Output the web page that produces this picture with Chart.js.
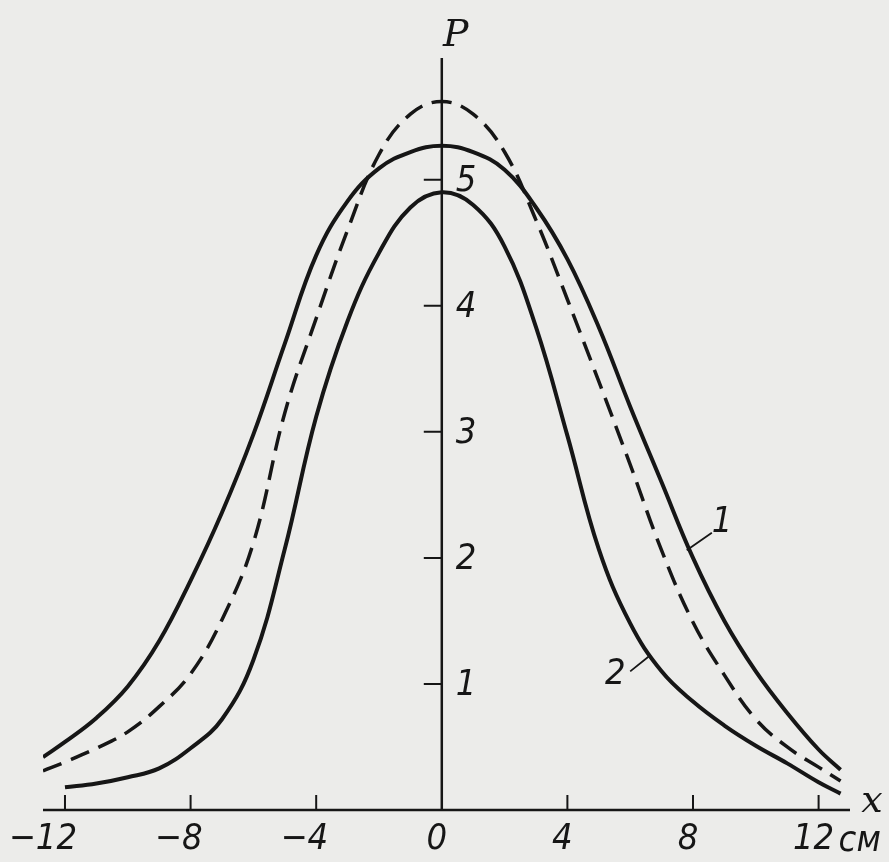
<!DOCTYPE html>
<html>
<head>
<meta charset="utf-8">
<title>P(x)</title>
<script src="https://cdn.jsdelivr.net/npm/chart.js@4.4.1/dist/chart.umd.min.js"></script>
<style>
  html, body { margin: 0; padding: 0; background: #ececea; }
  canvas { display: block; }
</style>
</head>
<body>
<canvas id="myChart" width="889" height="862"></canvas>
<script>
// values, P at each x (cm)
const xValues = [-12.7, -12, -11, -10, -9, -8, -7, -6, -5, -4, -3, -2, -1, 0, 1, 2, 3, 4, 5, 6, 7, 8, 9, 10, 11, 12, 12.7];
const curve1 = [0.42, 0.54, 0.73, 0.98, 1.34, 1.82, 2.36, 2.98, 3.7, 4.4, 4.83, 5.09, 5.22, 5.27, 5.22, 5.08, 4.78, 4.37, 3.83, 3.2, 2.6, 2.0, 1.5, 1.1, 0.77, 0.48, 0.32];
const curve2 = [null, 0.18, 0.21, 0.26, 0.33, 0.49, 0.72, 1.19, 2.07, 3.12, 3.88, 4.42, 4.78, 4.9, 4.8, 4.47, 3.83, 2.97, 2.07, 1.48, 1.1, 0.86, 0.67, 0.51, 0.37, 0.22, 0.13];
const dashed = [0.31, 0.38, 0.49, 0.62, 0.82, 1.08, 1.51, 2.12, 3.15, 3.9, 4.6, 5.2, 5.52, 5.62, 5.52, 5.22, 4.68, 4.05, 3.4, 2.74, 2.06, 1.49, 1.07, 0.72, 0.5, 0.34, 0.23];

const xTicks = [-12, -8, -4, 0, 4, 8, 12];
const yTicks = [1, 2, 3, 4, 5];

const ink = '#161616';
const labelFont = 'italic 36px "DejaVu Sans Condensed", "DejaVu Sans", sans-serif';

function toPoints(ys){
    return xValues.map((x, i) => ({x: x, y: ys[i]}));
}

const paper = {
    id: 'paper',
    beforeDraw(chart){
        const ctx = chart.ctx;
        ctx.save();
        ctx.fillStyle = '#ececea';
        ctx.fillRect(0, 0, chart.width, chart.height);
        ctx.restore();
    }
};

const axesArt = {
    id: 'axesArt',
    afterDraw(chart){
        const ctx = chart.ctx;
        const sx = chart.scales.x;
        const sy = chart.scales.y;
        const area = chart.chartArea;
        const x0 = sx.getPixelForValue(0);
        const y0 = sy.getPixelForValue(0);

        ctx.save();
        ctx.strokeStyle = ink;
        ctx.fillStyle = ink;
        ctx.lineWidth = 2.5;

        // axes
        ctx.beginPath();
        ctx.moveTo(area.left, y0);
        ctx.lineTo(area.right, y0);
        ctx.moveTo(x0, y0);
        ctx.lineTo(x0, area.top - 2);
        ctx.stroke();

        // x ticks go up, y ticks go left
        ctx.lineWidth = 2;
        ctx.beginPath();
        xTicks.forEach(v => {
            if (v === 0) return;
            const px = sx.getPixelForValue(v);
            ctx.moveTo(px, y0);
            ctx.lineTo(px, y0 - 15);
        });
        yTicks.forEach(v => {
            const py = sy.getPixelForValue(v);
            ctx.moveTo(x0, py);
            ctx.lineTo(x0 - 18, py);
        });
        ctx.stroke();

        ctx.font = labelFont;
        ctx.textBaseline = 'middle';
        xTicks.forEach(v => {
            const px = sx.getPixelForValue(v);
            if (v < 0) {
                ctx.textAlign = 'right';
                ctx.fillText('\u2212' + Math.abs(v), px + 12, y0 + 30);
            } else {
                ctx.textAlign = 'center';
                ctx.fillText(String(v), px - 5, y0 + 30);
            }
        });
        ctx.textAlign = 'left';
        ctx.fillText('см', sx.getPixelForValue(12) + 20, y0 + 32);

        yTicks.forEach(v => {
            ctx.fillText(String(v), x0 + 14, sy.getPixelForValue(v) + 2);
        });

        // axis names
        ctx.font = 'italic 38px "DejaVu Serif", serif';
        ctx.textAlign = 'center';
        ctx.fillText('P', x0 + 14, area.top - 24);
        ctx.fillText('x', area.right + 22, y0 - 8);

        // curve numbers with leader lines
        ctx.font = labelFont;
        ctx.lineWidth = 1.8;
        ctx.beginPath();
        ctx.moveTo(sx.getPixelForValue(7.8), sy.getPixelForValue(2.06));
        ctx.lineTo(sx.getPixelForValue(8.6), sy.getPixelForValue(2.2));
        ctx.moveTo(sx.getPixelForValue(6.0), sy.getPixelForValue(1.1));
        ctx.lineTo(sx.getPixelForValue(6.6), sy.getPixelForValue(1.22));
        ctx.stroke();
        ctx.textAlign = 'left';
        ctx.fillText('1', sx.getPixelForValue(8.6), sy.getPixelForValue(2.2) - 10);
        ctx.fillText('2', sx.getPixelForValue(5.2), sy.getPixelForValue(1.07));
        ctx.restore();
    }
};

function getChart(){
    const ctx = document.getElementById('myChart');

    new Chart(ctx, {
        type: 'line',
        data: {
            datasets: [{
                label: '1',
                data: toPoints(curve1),
                borderColor: ink,
                borderWidth: 4,
                pointRadius: 0,
                tension: 0.4
            }, {
                label: '2',
                data: toPoints(curve2),
                borderColor: ink,
                borderWidth: 4,
                pointRadius: 0,
                spanGaps: false,
                tension: 0.4
            }, {
                label: 'dashed',
                data: toPoints(dashed),
                borderColor: ink,
                borderWidth: 3.5,
                borderDash: [20, 10],
                pointRadius: 0,
                tension: 0.4
            }]
        },
        options: {
            responsive: false,
            devicePixelRatio: 1,
            animation: false,
            layout: {
                padding: {left: 43, right: 39, top: 60, bottom: 52}
            },
            plugins: {
                legend: {display: false},
                tooltip: {enabled: false}
            },
            scales: {
                x: {type: 'linear', min: -12.7, max: 13, display: false},
                y: {type: 'linear', min: 0, max: 5.95, display: false}
            }
        },
        plugins: [paper, axesArt]
    });
}

document.addEventListener('DOMContentLoaded', (event) => {
    getChart();
});
</script>
</body>
</html>
